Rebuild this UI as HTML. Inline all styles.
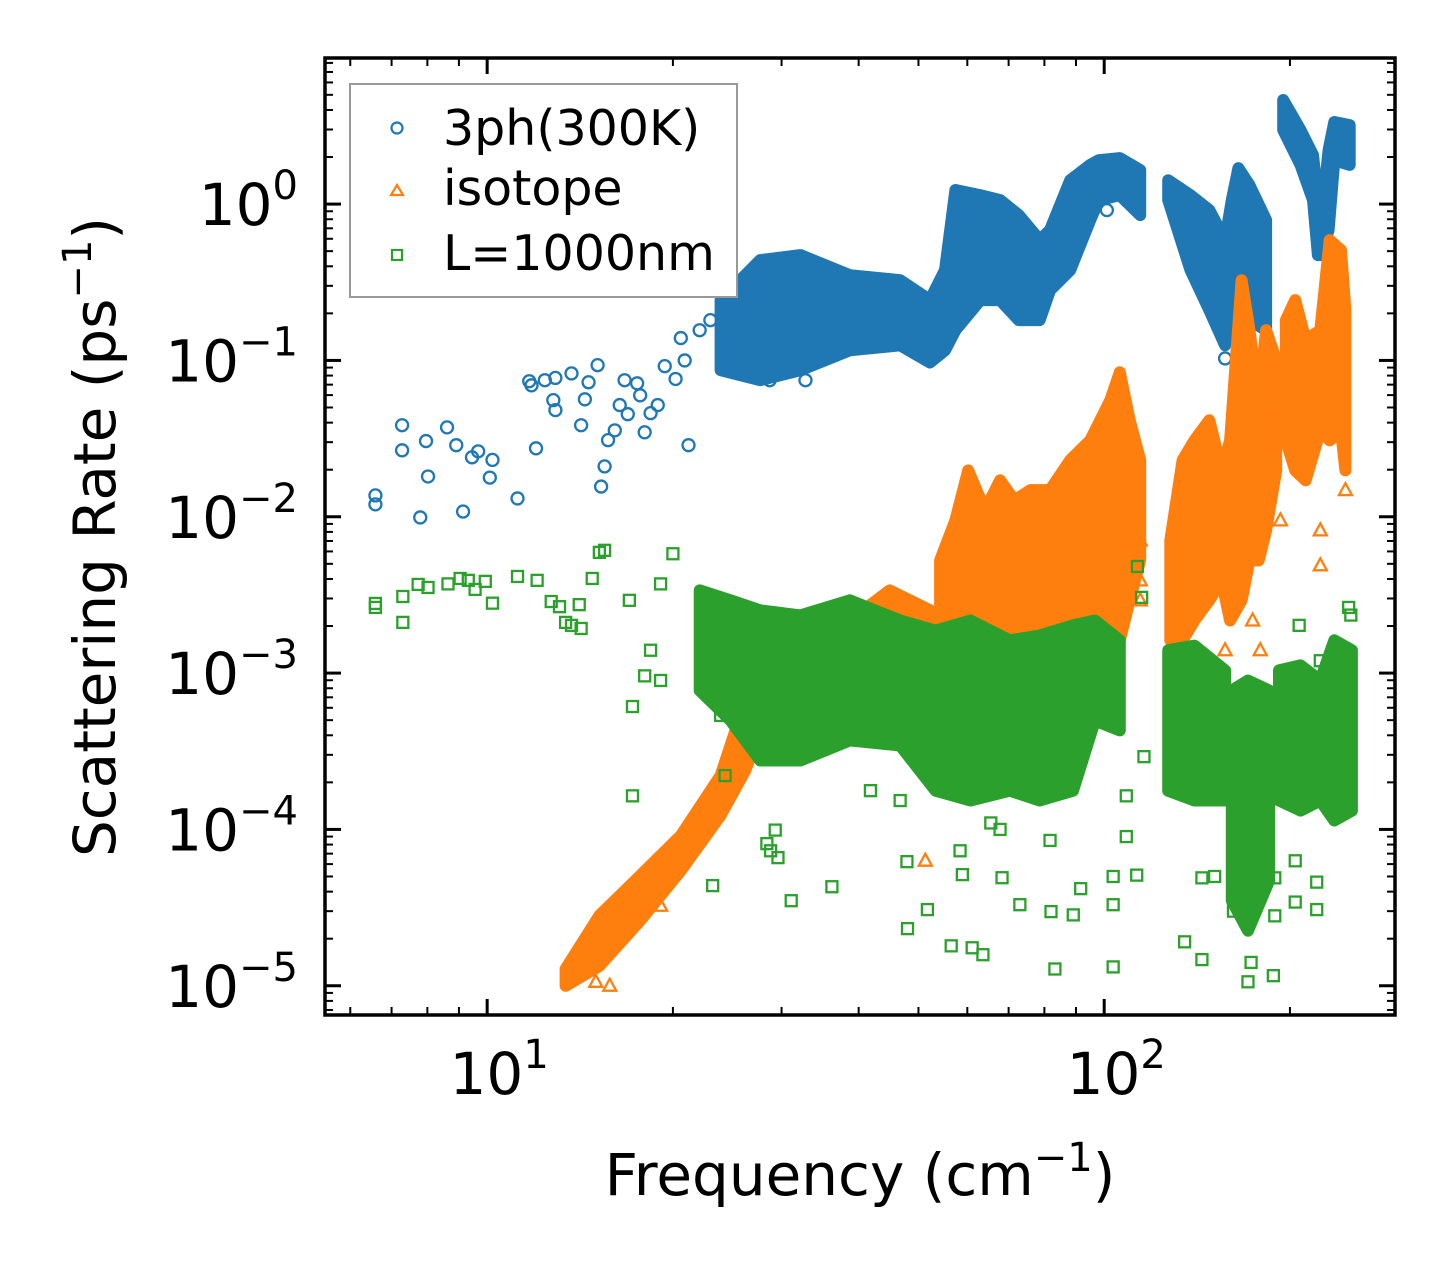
<!DOCTYPE html>
<html><head><meta charset="utf-8"><style>
html,body{margin:0;padding:0;background:#fff;}
svg{display:block;font-family:"DejaVu Sans","Liberation Sans",sans-serif;}
</style></head><body>
<svg id="chart" width="1455" height="1265" viewBox="0 0 1455 1265" xmlns="http://www.w3.org/2000/svg">
<rect width="1455" height="1265" fill="#fff"/>
<defs><clipPath id="clip"><rect x="325" y="58" width="1070" height="957"/></clipPath></defs>
<g id="bands" clip-path="url(#clip)"></g>
<g id="axes"></g>
<g>
<rect x="350" y="84" width="387" height="213" fill="#fff" stroke="#999" stroke-width="2"/>
<g><circle cx="397" cy="128" r="5.5" fill="none" stroke="#1f77b4" stroke-width="2.2"/><text x="443" y="145" font-size="49">3ph(300K)</text></g>
<g><polygon points="397,185 403,195 391,195" fill="none" stroke="#ff7f0e" stroke-width="2.2"/><text x="443" y="205" font-size="49">isotope</text></g>
<g><rect x="392" y="250" width="10" height="10" fill="none" stroke="#2ca02c" stroke-width="2.2"/><text x="443" y="270" font-size="49">L=1000nm</text></g>
</g>
<text x="860" y="1195" font-size="58" text-anchor="middle">Frequency (cm<tspan dy="-24" font-size="40">−1</tspan><tspan dy="24">)</tspan></text>
<text transform="translate(115,537) rotate(-90)" font-size="58" text-anchor="middle">Scattering Rate (ps<tspan dy="-24" font-size="40">−1</tspan><tspan dy="24">)</tspan></text>
</svg>
<script>
// ---- data ----
const xTickValues = [10, 100];
const xTickLabels = ["1", "2"];
const yTickValues = [1, 0.1, 0.01, 0.001, 0.0001, 0.00001];
const yTickLabels = ["0", "−1", "−2", "−3", "−4", "−5"];
// dense-region envelopes: [frequency, lowRate, highRate]
const blueBandA = [[23.9,0.0866,0.243],[27.7,0.0747,0.438],[32.2,0.0866,0.472],[38.7,0.116,0.351],[46.7,0.125,0.326],[52.2,0.097,0.243],[55.2,0.116,0.378],[57.4,0.156,1.23],[63,0.243,1.14],[67.8,0.243,1.06],[72.7,0.181,0.85],[78.6,0.181,0.588],[81.7,0.281,0.682],[88.1,0.378,1.42],[94.9,0.79,1.78],[98,1.06,1.91],[106,1.14,1.97],[114.4,0.85,1.65]];
const blueBandB = [[127,1.06,1.42],[138,0.378,1.14],[148,0.21,0.915],[157,0.125,0.588],[161,0.243,1.06],[165,0.378,1.70],[172,0.181,1.32],[183,0.156,0.79]];
const blueBandC = [[195,2.98,4.63],[208,1.78,2.98],[218,1.06,2.06],[222,0.472,1.06]];
const blueBandD = [[224,0.472,0.682],[231,0.682,2.22],[236,1.91,3.35],[250,1.78,3.20]];
const orangeBand1 = [[13.4,1.0e-5,1.28e-5],[15.2,1.34e-5,2.81e-5],[17.7,2.61e-5,5.06e-5],[20.6,5.45e-5,9.12e-5],[23.9,1.23e-4,2.21e-4],[26.2,2.38e-4,6.68e-4],[27.7,4.30e-4,1.40e-3]];
const orangeBand2 = [[29.8,2.76e-4,1.62e-3],[38.7,3.71e-4,2.17e-3],[44.9,6.68e-4,3.38e-3],[52.2,3.71e-4,2.52e-3]];
const orangeBand3 = [[54.2,6.68e-4,5.26e-3],[57.4,8.97e-4,9.48e-3],[60.2,8.97e-4,1.98e-2],[64.1,7.74e-4,1.10e-2],[67.8,7.74e-4,1.71e-2],[71.5,7.74e-4,1.27e-2],[75.9,7.74e-4,1.48e-2],[81.7,8.97e-4,1.48e-2],[88.1,8.97e-4,2.30e-2],[94.9,1.04e-3,3.08e-2],[102.3,1.20e-3,5.56e-2],[106,1.62e-3,8.40e-2],[110,2.92e-3,4.14e-2],[114.4,5.26e-3,2.30e-2]];
const orangeBand4 = [[128,1.62e-3,7.06e-3],[134,1.62e-3,2.30e-2],[140,2.17e-3,3.08e-2],[148,2.92e-3,4.14e-2],[155,3.92e-3,1.98e-2],[160,2.17e-3,3.08e-2],[167,2.92e-3,0.326],[172,5.26e-3,0.156],[178,5.26e-3,5.56e-2],[183,8.18e-3,0.156],[190,1.98e-2,0.1]];
const orangeBand5 = [[197,3.08e-2,0.181],[204,1.98e-2,0.243],[212,1.71e-2,0.135],[224,3.57e-2,0.156],[232,3.08e-2,0.588],[242,3.57e-2,0.507],[246,1.98e-2,0.21]];
const greenBand1 = [[22.1,7.74e-4,3.38e-3],[24.8,4.97e-4,2.92e-3],[27.7,2.76e-4,2.52e-3],[32.2,2.76e-4,2.34e-3],[38.7,3.71e-4,2.92e-3],[46.7,3.44e-4,2.17e-3],[53.3,1.77e-4,1.87e-3],[60.7,1.53e-4,2.17e-3],[70.3,1.77e-4,1.62e-3],[78.6,1.53e-4,1.74e-3],[89,1.77e-4,2.02e-3],[96.6,4.97e-4,2.17e-3],[106,4.30e-4,1.62e-3]];
const greenBand2 = [[127,1.77e-4,1.40e-3],[140,1.53e-4,1.50e-3],[157,1.53e-4,1.04e-3]];
const greenBand3 = [[161,3.50e-5,7.74e-4],[171,2.25e-5,8.97e-4],[185,4.70e-5,7.74e-4]];
const greenBand4 = [[192,1.53e-4,1.04e-3],[208,1.32e-4,1.12e-3],[224,1.53e-4,8.97e-4],[236,1.14e-4,1.62e-3],[252,1.32e-4,1.40e-3]];
// sparse points: frequency & rate
const blueFreq = [6.59,6.59,7.28,7.28,8.02,7.96,7.79,8.61,8.91,9.14,9.45,9.67,10.2,10.1,11.2,11.7,11.8,12.0,12.4,12.8,12.9,12.9,13.7,14.2,14.4,14.6,15.1,15.3,15.5,15.7,16.1,16.4,16.7,16.9,17.5,17.7,18.0,18.4,18.9,19.4,20.2,21.2,20.9,20.6,22.1,23.0,26.2,28.7,32.8,50.3,101,157];
const blueRate = [0.0137,0.0120,0.0385,0.0266,0.0181,0.0305,0.0099,0.0373,0.0287,0.0108,0.0240,0.0262,0.0231,0.0178,0.0131,0.0736,0.0693,0.0274,0.0747,0.0557,0.0773,0.0481,0.0826,0.0385,0.0564,0.0725,0.0933,0.0156,0.0210,0.0309,0.0357,0.0518,0.0747,0.0453,0.0714,0.0598,0.0347,0.046,0.0518,0.0919,0.0761,0.0287,0.100,0.139,0.156,0.181,0.125,0.0747,0.0747,0.135,0.915,0.103];
const orangeFreq = [114.4,114.4,114.4,183,200,208,224,246,174,179,167,51.3,160,157,143,224,193,17.7,19.1,15.8,15.0];
const orangeRate = [7.06e-3,3.92e-3,2.92e-3,3.08e-2,3.57e-2,1.98e-2,4.89e-3,1.48e-2,2.17e-3,1.40e-3,6.68e-4,6.31e-5,3.92e-3,1.40e-3,5.26e-3,8.18e-3,9.48e-3,3.02e-5,3.25e-5,1.0e-5,1.06e-5];
const greenFreq = [6.59,6.59,7.3,7.3,7.73,8.02,8.64,9.04,9.32,9.56,9.93,10.2,11.2,12.05,13.1,13.4,13.7,14.2,12.7,14.1,14.8,15.2,15.5,17.0,17.2,17.2,20.0,19.1,19.1,18.4,18.0,23.2,23.9,24.3,28.4,28.8,29.6,36.2,31.1,29.3,47.9,48.0,51.7,56.5,61.1,63.6,58.9,68.3,73.0,82.0,89.1,83.2,103.4,103.4,91.6,103.4,112.9,135,144,171,188,173,204,221,221,204,144,151,162,189,189,108.6,108.6,116,113.2,115,249,207,251,224,58.4,67.8,81.7,46.7,41.8,65.5];
const greenRate = [2.79e-3,2.63e-3,3.09e-3,2.11e-3,3.69e-3,3.53e-3,3.72e-3,4.03e-3,3.92e-3,3.43e-3,3.86e-3,2.8e-3,4.15e-3,3.92e-3,2.66e-3,2.11e-3,2.02e-3,1.93e-3,2.87e-3,2.74e-3,4.03e-3,5.92e-3,6.1e-3,2.92e-3,6.11e-4,1.64e-4,5.8e-3,3.72e-3,8.97e-4,1.40e-3,9.6e-4,4.37e-5,5.36e-4,2.21e-4,8.11e-5,7.3e-5,6.6e-5,4.3e-5,3.5e-5,9.9e-5,6.22e-5,2.32e-5,3.07e-5,1.80e-5,1.75e-5,1.58e-5,5.14e-5,4.91e-5,3.30e-5,2.98e-5,2.84e-5,1.28e-5,1.32e-5,3.30e-5,4.18e-5,5.0e-5,5.1e-5,1.91e-5,1.47e-5,1.06e-5,1.16e-5,1.41e-5,3.43e-5,3.07e-5,4.6e-5,6.3e-5,4.9e-5,5.0e-5,3.0e-5,2.8e-5,4.9e-5,1.64e-4,9.0e-5,2.92e-4,4.81e-3,3.05e-3,2.63e-3,2.02e-3,2.35e-3,1.2e-3,7.3e-5,1.0e-4,8.5e-5,1.53e-4,1.77e-4,1.1e-4];

// ---- scales ----
const PL=325, PR=1395, PT=58, PB=1015;
const XMIN=Math.log10(5.46), XMAX=Math.log10(296);
const YMIN=Math.log10(6.5e-6), YMAX=Math.log10(8.6);
function xs(v){return PL+(Math.log10(v)-XMIN)/(XMAX-XMIN)*(PR-PL);}
function ys(v){return PB-(Math.log10(v)-YMIN)/(YMAX-YMIN)*(PB-PT);}
const NS='http://www.w3.org/2000/svg';
function mk(tag,attrs,parent){const e=document.createElementNS(NS,tag);for(const k in attrs)e.setAttribute(k,attrs[k]);parent.appendChild(e);return e;}
const bands=document.getElementById('bands');
const axes=document.getElementById('axes');
const COL={blue:'#1f77b4',orange:'#ff7f0e',green:'#2ca02c'};

function drawBand(band,color,name){
  const top=band.map(d=>xs(d[0]).toFixed(1)+','+ys(d[2]).toFixed(1));
  const bot=band.slice().reverse().map(d=>xs(d[0]).toFixed(1)+','+ys(d[1]).toFixed(1));
  const p=mk('polygon',{points:top.concat(bot).join(' '),fill:color,stroke:color,'stroke-width':12,'stroke-linejoin':'round'},bands);
  
  
}
function drawPoints(fr,rt,shape,color,name){
  const g=mk('g',{fill:'none',stroke:color,'stroke-width':2.3},bands);
  
  
  for(let i=0;i<fr.length;i++){
    const x=xs(fr[i]), y=ys(rt[i]); let m;
    if(shape==='c') m=mk('circle',{cx:x,cy:y,r:6},g);
    else if(shape==='t') m=mk('polygon',{points:`${x},${y-7} ${x+6.5},${y+5} ${x-6.5},${y+5}`},g);
    else m=mk('rect',{x:x-5.5,y:y-5.5,width:11,height:11},g);
    
    
  }
}
[blueBandA,blueBandB,blueBandC,blueBandD].forEach((b,i)=>drawBand(b,COL.blue,'3ph-dense-band-'+i));
drawPoints(blueFreq,blueRate,'c',COL.blue,'3ph-points');
[orangeBand1,orangeBand2,orangeBand3,orangeBand4,orangeBand5].forEach((b,i)=>drawBand(b,COL.orange,'isotope-dense-band-'+i));
drawPoints(orangeFreq,orangeRate,'t',COL.orange,'isotope-points');
[greenBand1,greenBand2,greenBand3,greenBand4].forEach((b,i)=>drawBand(b,COL.green,'boundary-dense-band-'+i));
drawPoints(greenFreq,greenRate,'s',COL.green,'boundary-points');

// ---- axes ----
function line(x1,y1,x2,y2,w,name){const l=mk('line',{x1,y1,x2,y2,stroke:'#000','stroke-width':w},axes);
  
  }
for(let e=-6;e<=1;e++){for(let k=2;k<=9;k++){const v=k*Math.pow(10,e);const y=ys(v);if(y<PT||y>PB)continue;
  line(PL,y,PL+8,y,2,'y-minor-tick');line(PR,y,PR-8,y,2,'y-minor-tick-right');}}
for(let e=0;e<=2;e++){for(let k=2;k<=9;k++){const v=k*Math.pow(10,e);const x=xs(v);if(x<PL||x>PR)continue;
  line(x,PB,x,PB-8,2,'x-minor-tick');line(x,PT,x,PT+8,2,'x-minor-tick-top');}}
yTickValues.forEach((v,i)=>{const y=ys(v);line(PL,y,PL+16,y,3,'y-major-tick');line(PR,y,PR-16,y,3,'y-major-tick-right');
  const t=mk('text',{x:298,y:y+21,'font-size':58,'text-anchor':'end'},axes);
  
  
  t.appendChild(document.createTextNode('10'));
  const s=mk('tspan',{dy:-26,'font-size':40},t);s.textContent=yTickLabels[i];});
xTickValues.forEach((v,i)=>{const x=xs(v);line(x,PB,x,PB-16,3,'x-major-tick');line(x,PT,x,PT+16,3,'x-major-tick-top');
  const t=mk('text',{x:x+12,y:1094,'font-size':58,'text-anchor':'middle'},axes);
  
  
  t.appendChild(document.createTextNode('10'));
  const s=mk('tspan',{dy:-26,'font-size':40},t);s.textContent=xTickLabels[i];});
const fr=mk('rect',{x:PL,y:PT,width:PR-PL,height:PB-PT,fill:'none',stroke:'#000','stroke-width':3.5},axes);


</script>
</body></html>
